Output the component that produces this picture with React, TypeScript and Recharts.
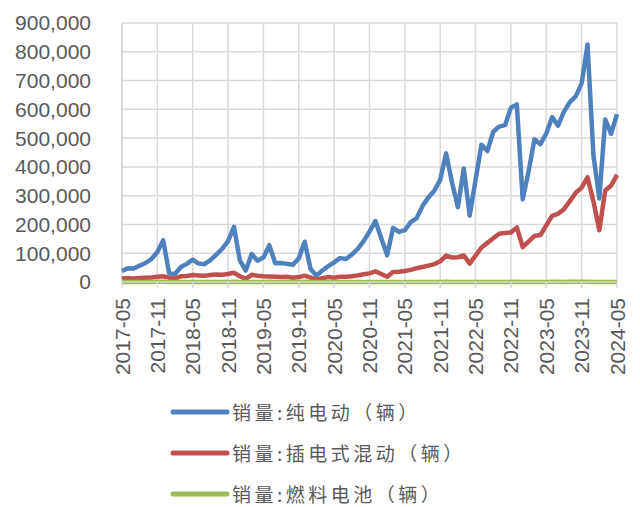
import { CartesianGrid, Legend, Line, LineChart, XAxis, YAxis } from "recharts";

document.body.style.margin = "0";

const MONTHS = [
  "2017-05", "2017-06", "2017-07", "2017-08", "2017-09", "2017-10", "2017-11", "2017-12",
  "2018-01", "2018-02", "2018-03", "2018-04", "2018-05", "2018-06", "2018-07", "2018-08", "2018-09", "2018-10", "2018-11", "2018-12",
  "2019-01", "2019-02", "2019-03", "2019-04", "2019-05", "2019-06", "2019-07", "2019-08", "2019-09", "2019-10", "2019-11", "2019-12",
  "2020-01", "2020-02", "2020-03", "2020-04", "2020-05", "2020-06", "2020-07", "2020-08", "2020-09", "2020-10", "2020-11", "2020-12",
  "2021-01", "2021-02", "2021-03", "2021-04", "2021-05", "2021-06", "2021-07", "2021-08", "2021-09", "2021-10", "2021-11", "2021-12",
  "2022-01", "2022-02", "2022-03", "2022-04", "2022-05", "2022-06", "2022-07", "2022-08", "2022-09", "2022-10", "2022-11", "2022-12",
  "2023-01", "2023-02", "2023-03", "2023-04", "2023-05", "2023-06", "2023-07", "2023-08", "2023-09", "2023-10", "2023-11", "2023-12",
  "2024-01", "2024-02", "2024-03", "2024-04", "2024-05",
];

// 销量:纯电动（辆）
const BEV = [
  38000, 48000, 47000, 57000, 66000, 80000, 104000, 145000,
  30000, 28000, 52000, 63000, 78000, 64000, 62000, 76000, 95000, 115000, 142000, 192000,
  75000, 40000, 97000, 74000, 85000, 128000, 65000, 66000, 63000, 60000, 82000, 140000,
  45000, 22000, 40000, 55000, 68000, 83000, 80000, 95000, 115000, 142000, 175000, 212000,
  152000, 93000, 188000, 174000, 180000, 208000, 222000, 264000, 294000, 317000, 355000, 447000,
  346000, 260000, 394000, 231000, 355000, 477000, 455000, 522000, 540000, 545000, 606000, 617000,
  287000, 385000, 496000, 479000, 516000, 573000, 543000, 592000, 625000, 645000, 690000, 825000,
  440000, 290000, 565000, 515000, 583000,
];

// 销量:插电式混动（辆）
const PHEV = [
  12000, 13000, 12000, 14000, 15000, 16000, 18000, 20000,
  15000, 12000, 20000, 21000, 24000, 23000, 22000, 24000, 26000, 25000, 28000, 32000,
  20000, 11000, 25000, 22000, 20000, 19000, 18000, 17000, 18000, 15000, 17000, 22000,
  15000, 8000, 13000, 17000, 15000, 18000, 18000, 20000, 23000, 27000, 30000, 37000,
  28000, 18000, 35000, 36000, 38000, 42000, 48000, 52000, 57000, 62000, 72000, 92000,
  85000, 86000, 92000, 64000, 92000, 120000, 136000, 152000, 168000, 170000, 172000, 190000,
  121000, 140000, 160000, 163000, 197000, 230000, 237000, 253000, 281000, 310000, 328000, 364000,
  280000, 180000, 318000, 335000, 372000,
];

// 销量:燃料电池（辆）
const FCV = [
  200, 300, 100, 200, 300, 400, 500, 600,
  0, 0, 100, 100, 200, 100, 100, 200, 200, 300, 400, 600,
  100, 100, 200, 200, 300, 500, 200, 200, 200, 100, 300, 600,
  0, 0, 0, 100, 100, 100, 100, 100, 100, 100, 200, 300,
  100, 100, 200, 100, 100, 200, 100, 100, 200, 200, 300, 500,
  100, 100, 200, 100, 100, 300, 200, 200, 300, 300, 400, 900,
  100, 200, 400, 300, 400, 500, 500, 400, 500, 500, 700, 1200,
  100, 100, 300, 300, 400,
];

const Y_TICKS = [0, 100000, 200000, 300000, 400000, 500000, 600000, 700000, 800000, 900000];

const SERIES = [
  { key: "bev", name: "销量:纯电动（辆）", color: "#4F81BD" },
  { key: "phev", name: "销量:插电式混动（辆）", color: "#C0504D" },
  { key: "fcv", name: "销量:燃料电池（辆）", color: "#9BBB59" },
];

const data = MONTHS.map((month, i) => ({
  month,
  bev: BEV[i],
  phev: PHEV[i],
  fcv: FCV[i],
}));

const TEXT = "#595959";
const GRID = "#d9d9d9";
const NUM_FONT = "'Liberation Sans', Arial, sans-serif";
const CJK_FONT = "'Noto Sans CJK SC', sans-serif";

const MonthTick = ({ x, y, payload }: any) => (
  <text
    x={x}
    y={y}
    transform={`rotate(-90 ${x} ${y})`}
    textAnchor="end"
    dy="0.36em"
    fill={TEXT}
    fontSize={21}
    fontFamily={NUM_FONT}
  >
    {payload.value}
  </text>
);

const LegendBox = () => (
  <div>
    {SERIES.map((s) => (
      <div
        key={s.key}
        style={{ display: "flex", alignItems: "center", height: 41 }}
      >
        <svg width={60} height={10}>
          <line
            x1={3}
            y1={5}
            x2={57}
            y2={5}
            stroke={s.color}
            strokeWidth={5}
            strokeLinecap="round"
          />
        </svg>
        <span
          style={{
            marginLeft: 2,
            color: TEXT,
            fontSize: 19,
            letterSpacing: 3.5,
            fontFamily: CJK_FONT,
            whiteSpace: "nowrap",
          }}
        >
          {s.name}
        </span>
      </div>
    ))}
  </div>
);

export default function App() {
  return (
    <LineChart
      width={640}
      height={507}
      data={data}
      margin={{ top: 23, right: 23, left: 0, bottom: 0 }}
    >
      <CartesianGrid stroke={GRID} strokeWidth={1.5} />
      <XAxis
        dataKey="month"
        interval={5}
        height={225}
        axisLine={{ stroke: GRID, strokeWidth: 1.5 }}
        tickLine={{ stroke: GRID, strokeWidth: 1.5 }}
        tickSize={6}
        tickMargin={10}
        tick={<MonthTick />}
      />
      <YAxis
        width={122}
        domain={[0, 900000]}
        ticks={Y_TICKS}
        interval={0}
        axisLine={false}
        tickLine={false}
        tickMargin={25}
        tick={{ fill: TEXT, fontSize: 21, fontFamily: NUM_FONT }}
        tickFormatter={(v: number) => v.toLocaleString("en-US")}
      />
      <Legend
        layout="horizontal"
        verticalAlign="middle"
        align="center"
        wrapperStyle={{ top: 391, left: 170, width: "auto" }}
        content={<LegendBox />}
      />
      {SERIES.map((s) => (
        <Line
          key={s.key}
          dataKey={s.key}
          name={s.name}
          stroke={s.color}
          strokeWidth={4.5}
          strokeLinejoin="round"
          dot={false}
          isAnimationActive={false}
        />
      ))}
    </LineChart>
  );
}
